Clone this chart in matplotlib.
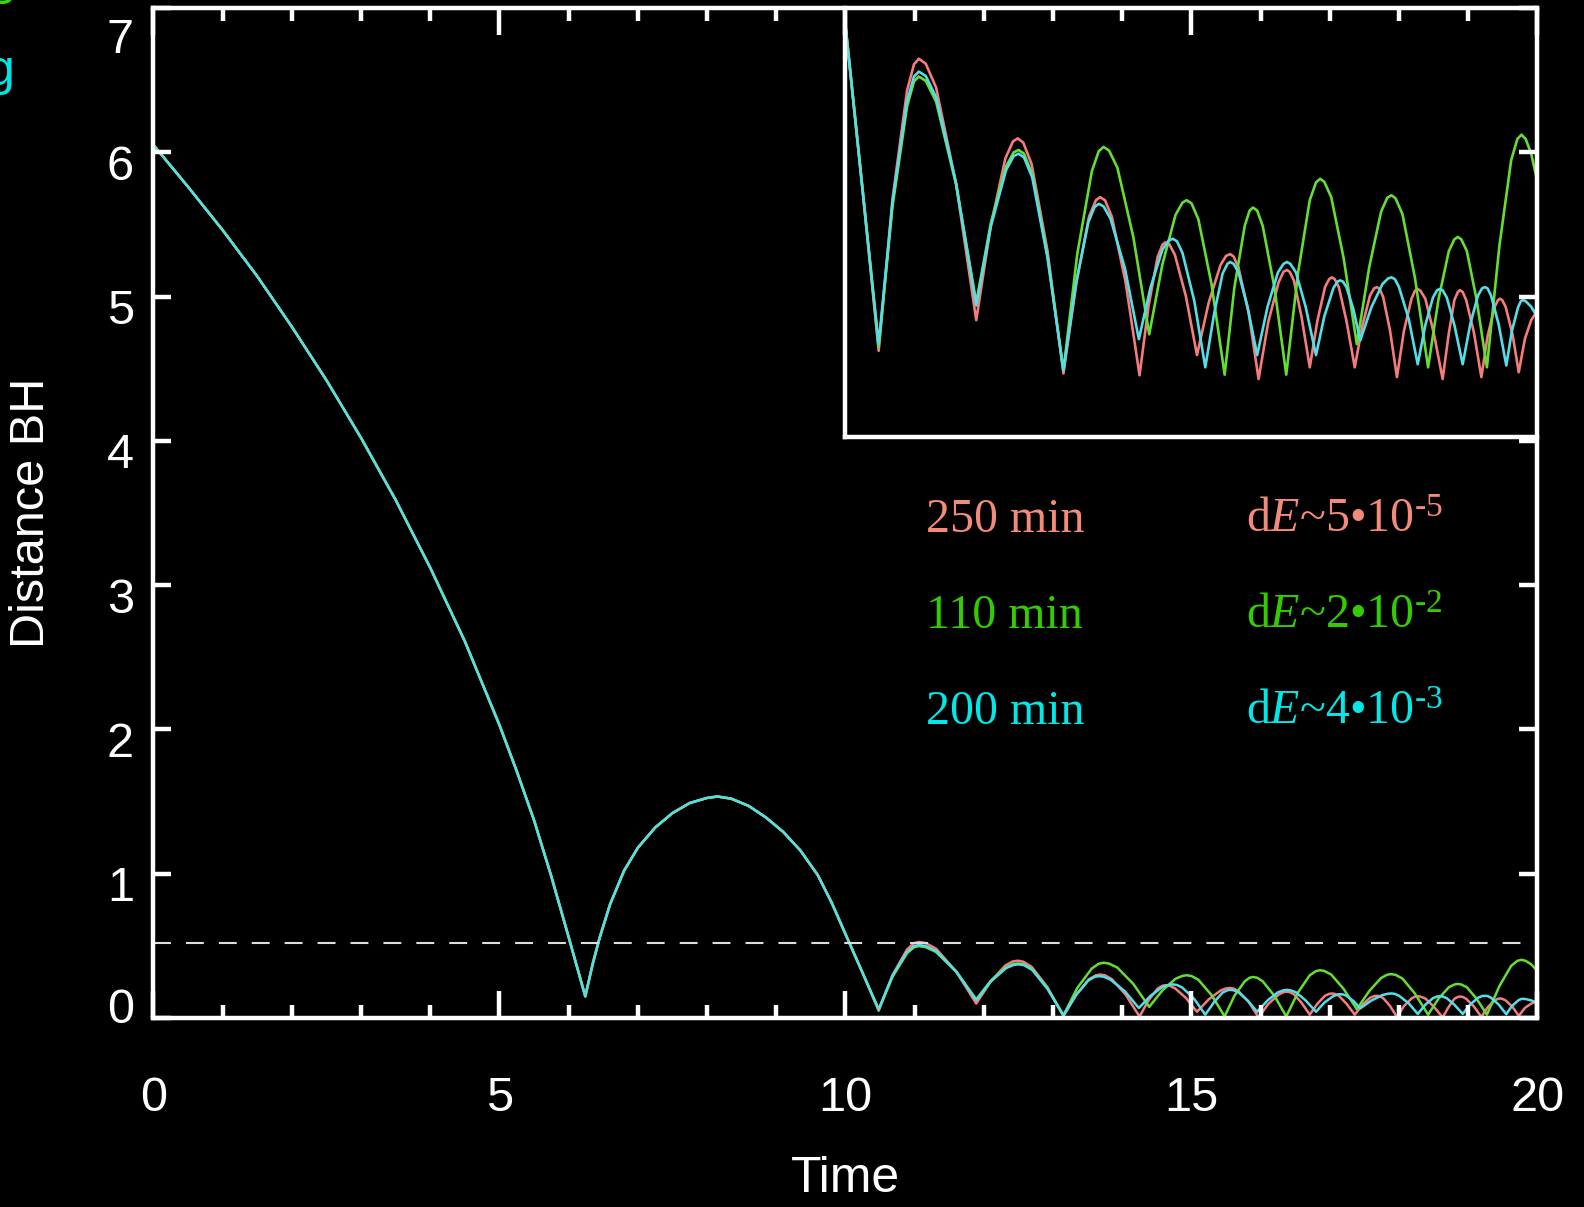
import numpy as np
import matplotlib
matplotlib.use('Agg')
import matplotlib.pyplot as plt
import matplotlib.transforms as mtransforms
from matplotlib.ticker import MultipleLocator

# part where the three runs coincide (infall + first bounce)
t_common = [0.0, 0.5, 1.0, 1.5, 2.0, 2.5, 3.0, 3.5, 4.0, 4.5, 5.0, 5.25, 5.5, 5.75, 6.0, 6.24,
            6.35, 6.45, 6.6, 6.8, 7.0, 7.25, 7.5, 7.75, 8.0, 8.15, 8.35, 8.6, 8.85, 9.1, 9.35,
            9.6, 9.8, 10.02, 10.25]
d_common = [6.05, 5.76, 5.46, 5.14, 4.79, 4.42, 4.02, 3.59, 3.12, 2.61, 2.03, 1.71, 1.37, 0.98,
            0.56, 0.15, 0.38, 0.56, 0.79, 1.02, 1.18, 1.32, 1.42, 1.49, 1.525, 1.535, 1.52,
            1.47, 1.39, 1.29, 1.16, 0.99, 0.80, 0.56, 0.31]

# 250 min run
t_red = [10.48, 10.68, 10.89, 10.99, 11.06, 11.16, 11.31, 11.60,
         11.89, 12.10, 12.31, 12.42, 12.49, 12.57, 12.69, 12.92,
         13.15, 13.34, 13.52, 13.62, 13.68, 13.75, 13.85, 14.05,
         14.25, 14.38, 14.51, 14.58, 14.62, 14.68, 14.76, 14.92,
         15.08, 15.25, 15.42, 15.50, 15.56, 15.61, 15.68, 15.83,
         15.97, 16.11, 16.26, 16.33, 16.38, 16.42, 16.48, 16.59,
         16.71, 16.82, 16.93, 16.99, 17.03, 17.07, 17.13, 17.24,
         17.36, 17.47, 17.58, 17.64, 17.68, 17.72, 17.77, 17.87,
         17.97, 18.07, 18.18, 18.23, 18.27, 18.31, 18.38, 18.50,
         18.63, 18.72, 18.80, 18.85, 18.88, 18.92, 18.97, 19.08,
         19.19, 19.28, 19.38, 19.43, 19.46, 19.49, 19.54, 19.64,
         19.73, 19.82, 19.91, 20.0]
d_red = [0.05, 0.298, 0.475, 0.518, 0.527, 0.519, 0.480, 0.322,
         0.10, 0.254, 0.364, 0.392, 0.397, 0.390, 0.355, 0.213,
         0.013, 0.163, 0.269, 0.296, 0.301, 0.296, 0.269, 0.161,
         0.010, 0.123, 0.203, 0.223, 0.227, 0.224, 0.207, 0.139,
         0.043, 0.129, 0.190, 0.205, 0.208, 0.204, 0.186, 0.110,
         0.004, 0.097, 0.162, 0.179, 0.182, 0.179, 0.165, 0.106,
         0.023, 0.099, 0.154, 0.167, 0.170, 0.167, 0.154, 0.099,
         0.023, 0.091, 0.140, 0.152, 0.154, 0.151, 0.138, 0.083,
         0.007, 0.082, 0.135, 0.148, 0.151, 0.148, 0.135, 0.080,
         0.004, 0.079, 0.133, 0.146, 0.149, 0.146, 0.133, 0.081,
         0.007, 0.074, 0.121, 0.133, 0.135, 0.133, 0.122, 0.077,
         0.015, 0.07, 0.10, 0.116]

# 110 min run
t_green = [10.48, 10.68, 10.89, 10.99, 11.06, 11.16, 11.31, 11.60,
           11.89, 12.10, 12.32, 12.43, 12.50, 12.58, 12.70, 12.92,
           13.15, 13.35, 13.56, 13.66, 13.73, 13.81, 13.93, 14.16,
           14.39, 14.58, 14.77, 14.87, 14.93, 15.00, 15.10, 15.29,
           15.48, 15.62, 15.77, 15.84, 15.89, 15.95, 16.03, 16.20,
           16.37, 16.54, 16.71, 16.80, 16.86, 16.92, 17.02, 17.20,
           17.39, 17.57, 17.74, 17.83, 17.89, 17.95, 18.05, 18.23,
           18.42, 18.57, 18.72, 18.80, 18.85, 18.90, 18.98, 19.12,
           19.27, 19.45, 19.62, 19.71, 19.77, 19.83, 19.91, 20.0]
d_green = [0.056, 0.286, 0.449, 0.490, 0.498, 0.491, 0.457, 0.321,
           0.129, 0.258, 0.351, 0.374, 0.378, 0.372, 0.338, 0.205,
           0.018, 0.208, 0.343, 0.376, 0.383, 0.377, 0.349, 0.236,
           0.077, 0.191, 0.272, 0.292, 0.296, 0.291, 0.265, 0.159,
           0.011, 0.153, 0.254, 0.279, 0.284, 0.279, 0.254, 0.153,
           0.011, 0.177, 0.296, 0.325, 0.331, 0.326, 0.301, 0.201,
           0.061, 0.187, 0.277, 0.300, 0.304, 0.299, 0.273, 0.169,
           0.023, 0.134, 0.213, 0.232, 0.236, 0.232, 0.213, 0.134,
           0.023, 0.221, 0.361, 0.396, 0.403, 0.396, 0.372, 0.326]

# 200 min run
t_cyan = [10.48, 10.68, 10.89, 10.99, 11.06, 11.16, 11.31, 11.60,
          11.89, 12.10, 12.32, 12.43, 12.50, 12.58, 12.70, 12.92,
          13.15, 13.33, 13.51, 13.60, 13.66, 13.73, 13.83, 14.04,
          14.24, 14.41, 14.58, 14.67, 14.73, 14.79, 14.87, 15.04,
          15.20, 15.33, 15.45, 15.52, 15.56, 15.61, 15.68, 15.81,
          15.95, 16.10, 16.25, 16.33, 16.38, 16.43, 16.51, 16.65,
          16.80, 16.92, 17.05, 17.11, 17.15, 17.19, 17.24, 17.34,
          17.44, 17.60, 17.76, 17.84, 17.89, 17.94, 18.00, 18.14,
          18.27, 18.38, 18.49, 18.55, 18.59, 18.63, 18.69, 18.80,
          18.92, 19.03, 19.14, 19.20, 19.24, 19.28, 19.33, 19.44,
          19.55, 19.63, 19.72, 19.76, 19.79, 19.83, 19.91, 20.0]
d_cyan = [0.061, 0.292, 0.457, 0.498, 0.506, 0.499, 0.464, 0.323,
          0.124, 0.253, 0.345, 0.368, 0.372, 0.366, 0.333, 0.202,
          0.018, 0.159, 0.260, 0.285, 0.290, 0.286, 0.266, 0.184,
          0.069, 0.154, 0.215, 0.230, 0.233, 0.229, 0.210, 0.132,
          0.023, 0.112, 0.176, 0.192, 0.195, 0.192, 0.178, 0.122,
          0.043, 0.122, 0.178, 0.192, 0.195, 0.192, 0.178, 0.122,
          0.043, 0.106, 0.152, 0.163, 0.165, 0.163, 0.154, 0.118,
          0.067, 0.121, 0.159, 0.168, 0.170, 0.167, 0.154, 0.102,
          0.028, 0.092, 0.137, 0.149, 0.151, 0.149, 0.137, 0.092,
          0.028, 0.094, 0.140, 0.152, 0.154, 0.152, 0.140, 0.093,
          0.026, 0.082, 0.121, 0.131, 0.133, 0.131, 0.122, 0.105]

run_labels = ['250 min', '110 min', '200 min']
err_labels = [r'd$E$~5•10$^{‐5}$', r'd$E$~2•10$^{‐2}$', r'd$E$~4•10$^{‐3}$']
line_colors = ['#f47c7c', '#66dd33', '#55dde8']
text_colors = ['#f48a7a', '#33cc00', '#00e8e8']
dash_level = 0.52


def main():
    plt.rcParams['font.family'] = ['Liberation Sans', 'DejaVu Sans']
    plt.rcParams['mathtext.fontset'] = 'custom'
    plt.rcParams['mathtext.rm'] = 'Liberation Serif'
    plt.rcParams['mathtext.it'] = 'Liberation Serif:italic'

    runs = [(t_red, d_red), (t_green, d_green), (t_cyan, d_cyan)]
    runs = [(np.concatenate([t_common, t]), np.concatenate([d_common, d])) for t, d in runs]

    fig = plt.figure(figsize=(15.84, 12.07), dpi=100, facecolor='black')
    ax = fig.add_axes([0.0969, 0.1566, 0.8737, 0.8368])
    ax.set_facecolor('black')

    for (t, d), c in zip(runs, line_colors):
        ax.plot(t, d, color=c, lw=1.8)
    ax.axhline(dash_level, color='#dddddd', lw=1.5, dashes=(8.6, 7.2))

    ax.set_xlim(0, 20)
    ax.set_ylim(0, 7)
    ax.xaxis.set_major_locator(MultipleLocator(5))
    ax.xaxis.set_minor_locator(MultipleLocator(1))
    ax.yaxis.set_major_locator(MultipleLocator(1))
    ax.tick_params(axis='x', which='major', direction='in', length=19.4, width=3.2,
                   top=True, bottom=True, pad=42, labelsize=35, colors='white')
    ax.tick_params(axis='x', which='minor', direction='in', length=9.4, width=3.2,
                   top=True, bottom=True, colors='white')
    ax.tick_params(axis='y', which='major', direction='in', length=13, width=3.2,
                   left=True, right=True, pad=14, labelsize=35, colors='white')
    for sp in ax.spines.values():
        sp.set_color('white')
        sp.set_linewidth(3.2)
    ax.xaxis.set_zorder(3)
    ax.yaxis.set_zorder(3)

    ax.set_xlabel('Time', fontsize=36, color='white')
    ax.xaxis.set_label_coords(0.5, -0.137)
    ax.set_ylabel('Distance BH', fontsize=35, color='white', va='center')
    ax.yaxis.set_label_coords(-0.0885, 0.5)

    # zoomed view of the late bounces
    axin = ax.inset_axes([10, 4.03, 10, 2.97], transform=ax.transData, zorder=1)
    axin.set_facecolor('black')
    for (t, d), c in zip(runs, line_colors):
        axin.plot(t, d, color=c, lw=1.9)
    axin.set_xlim(10, 20)
    axin.set_ylim(-0.09, 0.61)
    axin.set_xticks([])
    axin.set_yticks([])
    axin.spines['top'].set_visible(False)
    axin.spines['right'].set_visible(False)
    for s in ['left', 'bottom']:
        axin.spines[s].set_color('white')
        axin.spines[s].set_linewidth(3.2)

    rows_y = [0.5592, 0.4797, 0.4002]
    for lab, err, c, y in zip(run_labels, err_labels, text_colors, rows_y):
        fig.text(0.5846, y, lab, color=c, fontsize=34.5, family='Liberation Serif', va='baseline')
        fig.text(0.7864, y, err, color=c, fontsize=34.5, family='Liberation Serif', va='baseline')

    # bits of slide text cut off at the left edge
    fig.text(17 / 1584, 1 + 6 / 1207, 'g', color='#33dd00', fontsize=36, ha='right', va='baseline')
    fig.text(15 / 1584, 1 - 85 / 1207, 'g', color='#00e5e5', fontsize=36, ha='right', va='baseline')

    # y labels sit a little below their ticks, the end ones pulled inside
    fig.canvas.draw()
    for lbl in ax.get_yticklabels():
        shift = {'7': -28, '0': 12}.get(lbl.get_text(), -10)
        off = mtransforms.ScaledTranslation(0, shift / 100, fig.dpi_scale_trans)
        lbl.set_transform(lbl.get_transform() + off)

    fig.savefig('out.png', dpi=100, facecolor='black')


if __name__ == "__main__":
    main()
